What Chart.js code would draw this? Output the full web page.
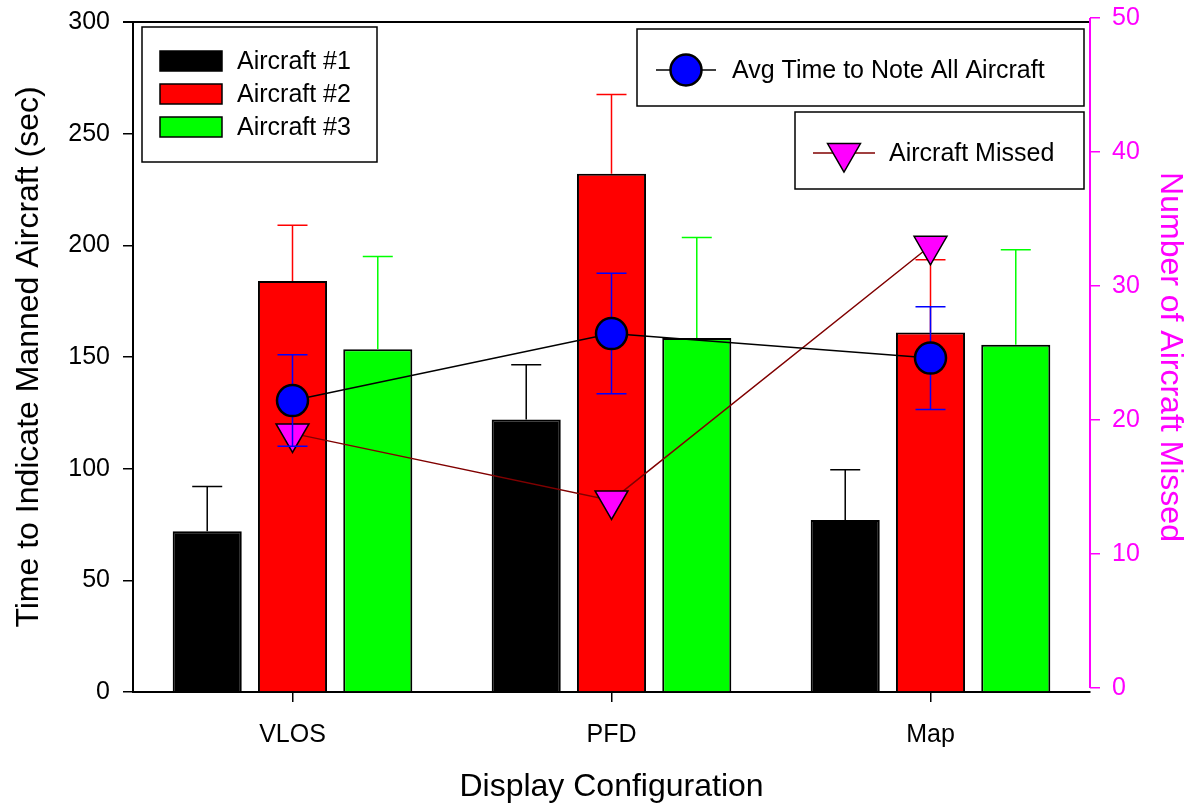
<!DOCTYPE html>
<html><head><meta charset="utf-8">
<script src="https://cdn.jsdelivr.net/npm/chart.js@4"></script>
<style>html,body{margin:0;padding:0;background:#fff;} canvas{display:block;}</style>
</head><body>
<canvas id="c" width="1191" height="807"></canvas>
<script>
const categories = ['VLOS', 'PFD', 'Map'];
const aircraft1 = [72, 122, 77];
const aircraft1Err = [20, 24.5, 22.5];
const aircraft2 = [184, 232, 161];
const aircraft2Err = [25, 35.5, 32.5];
const aircraft3 = [153.5, 158.5, 155.5];
const aircraft3Err = [41.5, 45, 42.5];
const avgTime = [130.5, 160.5, 149.5];
const avgTimeErr = [20.5, 27, 23];
const aircraftMissed = [19, 14, 33];
const leftTicks = [0, 50, 100, 150, 200, 250, 300];
const rightTicks = [0, 10, 20, 30, 40, 50];

const FONT = "'Liberation Sans', Arial, sans-serif";
const MAGENTA = '#FF00FF';

function drawErr(chart, index, ds) {
  const meta = chart.getDatasetMeta(index);
  const ys = chart.scales[meta.yAxisID];
  const ctx = chart.ctx;
  const both = ds.errorMode === 'both';
  ctx.save();
  ctx.strokeStyle = ds.errorColor;
  ctx.lineWidth = 1.5;
  meta.data.forEach((el, i) => {
    const v = ds.data[i], e = ds.errors[i];
    const x = el.x;
    const yTop = ys.getPixelForValue(v + e);
    const yBot = both ? ys.getPixelForValue(v - e) : ys.getPixelForValue(v);
    ctx.beginPath();
    ctx.moveTo(x, yBot); ctx.lineTo(x, yTop);
    ctx.moveTo(x - 15, yTop); ctx.lineTo(x + 15, yTop);
    if (both) { ctx.moveTo(x - 15, yBot); ctx.lineTo(x + 15, yBot); }
    ctx.stroke();
  });
  ctx.restore();
}

const errorBars = {
  id: 'errorBars',
  beforeDatasetDraw(chart, args) {
    const ds = chart.data.datasets[args.index];
    if (ds.errorMode === 'both') drawErr(chart, args.index, ds);
  },
  afterDatasetDraw(chart, args) {
    const ds = chart.data.datasets[args.index];
    if (ds.errorMode === 'up') drawErr(chart, args.index, ds);
  }
};

function tri(ctx, x, y, r) {
  const w = r * Math.sin(Math.PI / 3);
  ctx.beginPath();
  ctx.moveTo(x, y + r);
  ctx.lineTo(x - w, y - r / 2);
  ctx.lineTo(x + w, y - r / 2);
  ctx.closePath();
}

const frame = {
  id: 'frame',
  beforeDatasetsDraw(chart) {
    const {ctx, chartArea: a} = chart;
    const y1 = chart.scales.y1;
    ctx.save();
    ctx.strokeStyle = '#000'; ctx.lineWidth = 2;
    ctx.beginPath(); ctx.moveTo(a.left - 10, a.top); ctx.lineTo(a.right, a.top); ctx.stroke();
    ctx.strokeStyle = MAGENTA; ctx.lineWidth = 2;
    ctx.beginPath();
    ctx.moveTo(a.right, y1.getPixelForValue(rightTicks[rightTicks.length - 1]));
    ctx.lineTo(a.right, y1.getPixelForValue(rightTicks[0]));
    ctx.stroke();
    ctx.restore();
  },
  afterDraw(chart) {
    const ctx = chart.ctx;
    const ds = chart.data.datasets;
    ctx.save();
    ctx.font = '25px ' + FONT;
    ctx.textBaseline = 'middle';
    ctx.textAlign = 'left';
    ctx.lineWidth = 1.5;
    // legend 1
    ctx.fillStyle = '#fff'; ctx.fillRect(142, 27, 235, 135);
    ctx.strokeStyle = '#000'; ctx.strokeRect(142, 27, 235, 135);
    const rows = [61, 94, 127];
    for (let i = 0; i < 3; i++) {
      ctx.fillStyle = ds[i].backgroundColor;
      ctx.fillRect(160, rows[i] - 10, 62, 20);
      ctx.strokeStyle = '#000'; ctx.strokeRect(160, rows[i] - 10, 62, 20);
      ctx.fillStyle = '#000';
      ctx.fillText(ds[i].label, 237, rows[i] + 1);
    }
    // legend 2
    ctx.fillStyle = '#fff'; ctx.fillRect(637, 29, 447, 77);
    ctx.strokeStyle = '#000'; ctx.strokeRect(637, 29, 447, 77);
    ctx.beginPath(); ctx.moveTo(656, 70); ctx.lineTo(716, 70); ctx.stroke();
    ctx.beginPath(); ctx.arc(686, 70, 15.5, 0, Math.PI * 2);
    ctx.fillStyle = '#0000FF'; ctx.fill(); ctx.lineWidth = 2.5; ctx.stroke();
    ctx.fillStyle = '#000'; ctx.fillText(ds[4].label, 732, 71);
    // legend 3
    ctx.lineWidth = 1.5;
    ctx.fillStyle = '#fff'; ctx.fillRect(795, 112, 289, 77);
    ctx.strokeStyle = '#000'; ctx.strokeRect(795, 112, 289, 77);
    ctx.strokeStyle = '#800000';
    ctx.beginPath(); ctx.moveTo(813, 153); ctx.lineTo(875, 153); ctx.stroke();
    tri(ctx, 844, 153, 19);
    ctx.fillStyle = MAGENTA; ctx.fill(); ctx.strokeStyle = '#000'; ctx.stroke();
    ctx.fillStyle = '#000'; ctx.fillText(ds[3].label, 889, 154);
    ctx.restore();
  }
};

new Chart(document.getElementById('c'), {
  type: 'bar',
  data: {
    labels: categories,
    datasets: [
      { label: 'Aircraft #1', data: aircraft1, errors: aircraft1Err, errorMode: 'up', errorColor: '#000',
        backgroundColor: '#000000', borderColor: '#000', borderWidth: 2, order: 3, yAxisID: 'y' },
      { label: 'Aircraft #2', data: aircraft2, errors: aircraft2Err, errorMode: 'up', errorColor: '#FF0000',
        backgroundColor: '#FF0000', borderColor: '#000', borderWidth: 2, order: 3, yAxisID: 'y' },
      { label: 'Aircraft #3', data: aircraft3, errors: aircraft3Err, errorMode: 'up', errorColor: '#00FF00',
        backgroundColor: '#00FF00', borderColor: '#000', borderWidth: 2, order: 3, yAxisID: 'y' },
      { type: 'line', label: 'Aircraft Missed', data: aircraftMissed, yAxisID: 'y1', order: 2,
        borderColor: '#800000', borderWidth: 1.5, pointStyle: 'triangle', pointRotation: 180,
        pointRadius: 19, pointBackgroundColor: MAGENTA, pointBorderColor: '#000', pointBorderWidth: 1.5, tension: 0 },
      { type: 'line', label: 'Avg Time to Note All Aircraft', data: avgTime, errors: avgTimeErr, errorMode: 'both', errorColor: '#0000FF',
        yAxisID: 'y', order: 1, borderColor: '#000', borderWidth: 1.5, pointStyle: 'circle',
        pointRadius: 15.5, pointBackgroundColor: '#0000FF', pointBorderColor: '#000', pointBorderWidth: 2.5, tension: 0 }
    ]
  },
  options: {
    responsive: false,
    animation: false,
    devicePixelRatio: 1,
    layout: { padding: { top: 22, left: 0, right: 0, bottom: 0 } },
    datasets: { bar: { barPercentage: 0.81, categoryPercentage: 0.802 } },
    plugins: { legend: { display: false }, tooltip: { enabled: false } },
    scales: {
      x: {
        type: 'category', offset: true,
        grid: { display: true, drawOnChartArea: false, offset: false, tickLength: 10, color: '#000', lineWidth: 1.5 },
        border: { display: true, color: '#000', width: 2 },
        ticks: { color: '#000', font: { family: FONT, size: 25 }, padding: 18, maxRotation: 0 },
        title: { display: true, text: 'Display Configuration', color: '#000', font: { family: FONT, size: 32 }, padding: { top: 0, bottom: 1 } },
        afterFit: s => { s.height = 115; }
      },
      y: {
        position: 'left', min: 0, max: 300,
        afterBuildTicks: s => { s.ticks = leftTicks.map(v => ({ value: v })); },
        grid: { display: true, drawOnChartArea: false, tickLength: 10, color: '#000', lineWidth: 1.5 },
        border: { display: true, color: '#000', width: 2 },
        ticks: { color: '#000', font: { family: FONT, size: 25, lineHeight: 0.6 }, padding: 13, autoSkip: false },
        title: { display: true, text: 'Time to Indicate Manned Aircraft (sec)', color: '#000', font: { family: FONT, size: 32 }, padding: { top: 10, bottom: 0 } },
        afterFit: s => { s.width = 133; }
      },
      y1: {
        position: 'right', min: -0.3, max: 49.7,
        afterBuildTicks: s => { s.ticks = rightTicks.map(v => ({ value: v })); },
        grid: { display: true, drawOnChartArea: false, tickLength: 10, color: MAGENTA, lineWidth: 1.5 },
        border: { display: false },
        ticks: { color: MAGENTA, font: { family: FONT, size: 25, lineHeight: 0.6 }, padding: 12, autoSkip: false },
        title: { display: true, text: 'Number of Aircraft Missed', color: MAGENTA, font: { family: FONT, size: 32 }, padding: { top: 2, bottom: 0 } },
        afterFit: s => { s.width = 101; }
      }
    }
  },
  plugins: [errorBars, frame]
});
</script>
</body></html>
